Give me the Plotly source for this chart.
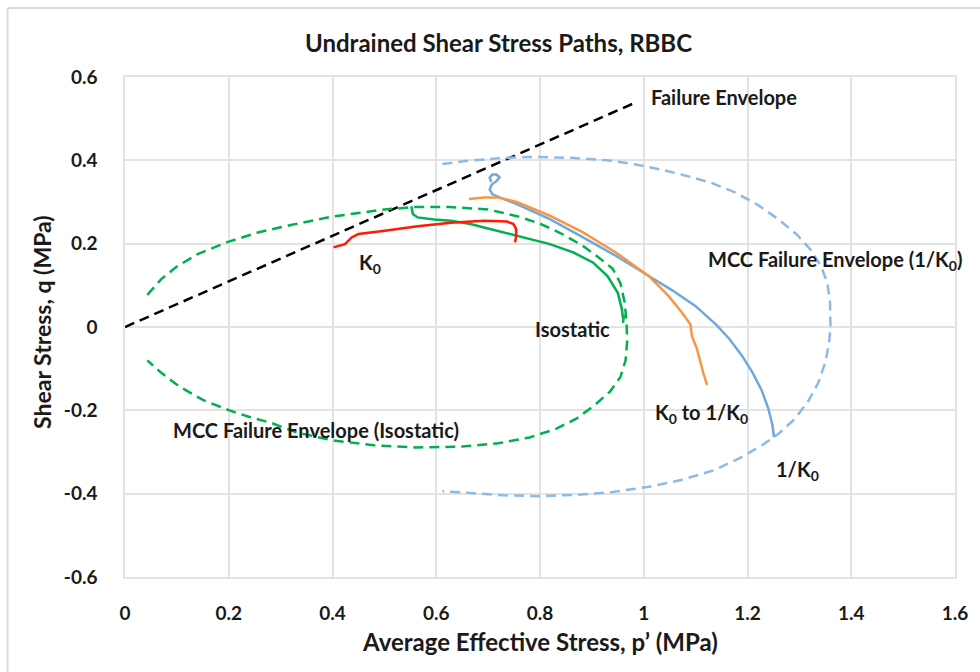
import plotly.graph_objects as go

# --- Failure envelope (critical state line) ---
fe_p = [0.0, 0.981]
fe_q = [0.0, 0.537]

# --- MCC yield surface, isostatic consolidation ---
mcc_iso_p = [0.043, 0.070, 0.100, 0.140, 0.200, 0.260, 0.320, 0.400, 0.500, 0.560, 0.627,
             0.700, 0.756, 0.800, 0.840, 0.880, 0.910, 0.940, 0.955, 0.963, 0.967, 0.968,
             0.965, 0.955, 0.935, 0.905, 0.870, 0.830, 0.780, 0.720, 0.650, 0.560, 0.480,
             0.400, 0.330, 0.284, 0.240, 0.201, 0.150, 0.105, 0.070, 0.043]
mcc_iso_q = [0.077, 0.115, 0.145, 0.175, 0.205, 0.228, 0.245, 0.265, 0.282, 0.288, 0.288,
             0.282, 0.266, 0.248, 0.225, 0.197, 0.170, 0.140, 0.105, 0.060, 0.010, -0.035,
             -0.080, -0.120, -0.155, -0.188, -0.220, -0.245, -0.265, -0.279, -0.287, -0.289, -0.284,
             -0.272, -0.253, -0.231, -0.216, -0.200, -0.175, -0.143, -0.110, -0.080]

# --- MCC yield surface, 1/K0 consolidation ---
mcc_k_p = [0.612, 0.660, 0.730, 0.794, 0.860, 0.930, 0.985, 1.040, 1.085, 1.130, 1.176, 1.220,
           1.260, 1.295, 1.322, 1.342, 1.354, 1.359, 1.360, 1.357, 1.350, 1.336, 1.316, 1.290,
           1.260, 1.230, 1.185, 1.135, 1.070, 1.007, 0.940, 0.870, 0.794, 0.730, 0.660, 0.612]
mcc_k_q = [0.391, 0.399, 0.406, 0.408, 0.406, 0.400, 0.390, 0.376, 0.362, 0.346, 0.323, 0.293,
           0.258, 0.222, 0.185, 0.145, 0.105, 0.060, 0.000, -0.040, -0.085, -0.135, -0.180, -0.222,
           -0.256, -0.282, -0.315, -0.344, -0.368, -0.384, -0.396, -0.403, -0.406, -0.404, -0.398, -0.394]

# --- Measured undrained stress paths ---
k0_p = [0.402, 0.424, 0.437, 0.450, 0.501, 0.564, 0.628, 0.692, 0.736, 0.749, 0.754, 0.754, 0.752]
k0_q = [0.191, 0.199, 0.215, 0.223, 0.231, 0.242, 0.250, 0.255, 0.253, 0.247, 0.235, 0.219, 0.203]

iso_p = [0.552, 0.555, 0.564, 0.596, 0.628, 0.666, 0.692, 0.755, 0.819, 0.864, 0.902, 0.930,
         0.950, 0.958, 0.960, 0.962, 0.960]
iso_q = [0.290, 0.271, 0.263, 0.258, 0.255, 0.247, 0.239, 0.219, 0.199, 0.179, 0.155, 0.122,
         0.082, 0.042, 0.020, 0.030, 0.010]

k0_to_inv_p = [0.663, 0.692, 0.720, 0.755, 0.819, 0.883, 0.946, 1.010, 1.048, 1.074, 1.090,
               1.093, 1.102, 1.106, 1.115, 1.122]
k0_to_inv_q = [0.307, 0.311, 0.311, 0.300, 0.267, 0.227, 0.179, 0.122, 0.074, 0.034, 0.006,
               -0.023, -0.050, -0.071, -0.111, -0.139]

inv_k0_p = [0.706, 0.703, 0.708, 0.716, 0.722, 0.716, 0.707, 0.703, 0.708, 0.724, 0.755, 0.819,
            0.883, 0.946, 1.005, 1.055, 1.100, 1.140, 1.166, 1.190, 1.210, 1.227, 1.240, 1.248, 1.251]
inv_k0_q = [0.348, 0.358, 0.366, 0.366, 0.359, 0.350, 0.342, 0.330, 0.319, 0.310, 0.295, 0.259,
            0.215, 0.171, 0.126, 0.088, 0.050, 0.005, -0.030, -0.070, -0.110, -0.151, -0.195, -0.235, -0.264]

x_ticks = [0, 0.2, 0.4, 0.6, 0.8, 1.0, 1.2, 1.4, 1.6]
x_tick_text = ["0", "0.2", "0.4", "0.6", "0.8", "1", "1.2", "1.4", "1.6"]
y_ticks = [-0.6, -0.4, -0.2, 0, 0.2, 0.4, 0.6]
y_tick_text = ["-0.6", "-0.4", "-0.2", "0", "0.2", "0.4", "0.6"]

GREEN = "#00b050"
RED = "#ff1a00"
ORANGE = "#f79646"
BLUE = "#6fa8dc"
BLUE_DASH = "#8cbbe5"
GRID = "#e3e3e3"
FONT = "Lato"
TXT = "#1a1a1a"

fig = go.Figure()
dash = "10px,6px"

fig.add_trace(go.Scatter(x=fe_p, y=fe_q, mode="lines",
                         line=dict(color="black", width=2.5, dash=dash)))
fig.add_trace(go.Scatter(x=mcc_iso_p, y=mcc_iso_q, mode="lines",
                         line=dict(color=GREEN, width=2.5, dash=dash)))
fig.add_trace(go.Scatter(x=mcc_k_p, y=mcc_k_q, mode="lines",
                         line=dict(color=BLUE_DASH, width=2.5, dash=dash)))
fig.add_trace(go.Scatter(x=iso_p, y=iso_q, mode="lines",
                         line=dict(color=GREEN, width=2.5)))
fig.add_trace(go.Scatter(x=k0_p, y=k0_q, mode="lines",
                         line=dict(color=RED, width=2.5)))
fig.add_trace(go.Scatter(x=inv_k0_p, y=inv_k0_q, mode="lines",
                         line=dict(color=BLUE, width=2.5)))
fig.add_trace(go.Scatter(x=k0_to_inv_p, y=k0_to_inv_q, mode="lines",
                         line=dict(color=ORANGE, width=2.5)))

lab_font = dict(family=FONT, size=20, color=TXT, weight="bold")


def label(x, y, text, xanchor="center"):
    fig.add_annotation(x=x, y=y, xref="x", yref="y", text=text, showarrow=False,
                       xanchor=xanchor, yanchor="middle", font=lab_font)


label(1.011, 0.553, "Failure Envelope", xanchor="left")
label(0.473, 0.152, "K<sub>0</sub>")
label(0.863, -0.004, "Isostatic")
label(1.12, 0.16, "MCC Failure Envelope (1/K<sub>0</sub>)", xanchor="left")
label(1.112, -0.208, "K<sub>0</sub> to 1/K<sub>0</sub>")
label(1.296, -0.344, "1/K<sub>0</sub>")
label(0.368, -0.248, "MCC Failure Envelope (Isostatic)")

# chart title and axis titles
fig.add_annotation(x=0.4496, y=1.068, xref="paper", yref="paper", showarrow=False,
                   text="Undrained Shear Stress Paths, RBBC", xanchor="center", yanchor="middle",
                   font=dict(family=FONT, size=24, color=TXT, weight="bold"))
fig.add_annotation(x=0.5, y=-0.128, xref="paper", yref="paper", showarrow=False,
                   text="Average Effective Stress, p\u2019 (MPa)", xanchor="center", yanchor="middle",
                   font=dict(family=FONT, size=24, color=TXT, weight="bold"))
fig.add_annotation(x=-0.1, y=0.51, xref="paper", yref="paper", showarrow=False, textangle=-90,
                   text="Shear Stress, q (MPa)", xanchor="center", yanchor="middle",
                   font=dict(family=FONT, size=23, color=TXT, weight="bold"))

# outer chart-area border (left and top edges)
border = dict(color="#d9d9d9", width=2)
fig.add_shape(type="line", xref="paper", yref="paper", x0=-0.1415, x1=-0.1415, y0=-0.2, y1=1.138, line=border)
fig.add_shape(type="line", xref="paper", yref="paper", x0=-0.1415, x1=1.1, y0=1.138, y1=1.138, line=border)

tick_font = dict(family=FONT, size=19, color=TXT, weight="bold")
fig.update_xaxes(range=[0, 1.6], tickvals=x_ticks, ticktext=x_tick_text, showgrid=True,
                 gridcolor=GRID, gridwidth=1.5, zeroline=False, showline=True, linecolor=GRID,
                 linewidth=1.5, mirror=True, tickfont=tick_font, ticks="", ticklabelstandoff=18)
fig.update_yaxes(range=[-0.6, 0.6], tickvals=y_ticks, ticktext=y_tick_text, showgrid=True,
                 gridcolor=GRID, gridwidth=1.5, zeroline=False, showline=True, linecolor=GRID,
                 linewidth=1.5, mirror=True, tickfont=tick_font, ticks="", ticklabelstandoff=22)

fig.update_layout(width=980, height=672, margin=dict(l=125, r=21, t=77, b=95),
                  paper_bgcolor="white", plot_bgcolor="white", showlegend=False)

fig.write_html("out.html")
